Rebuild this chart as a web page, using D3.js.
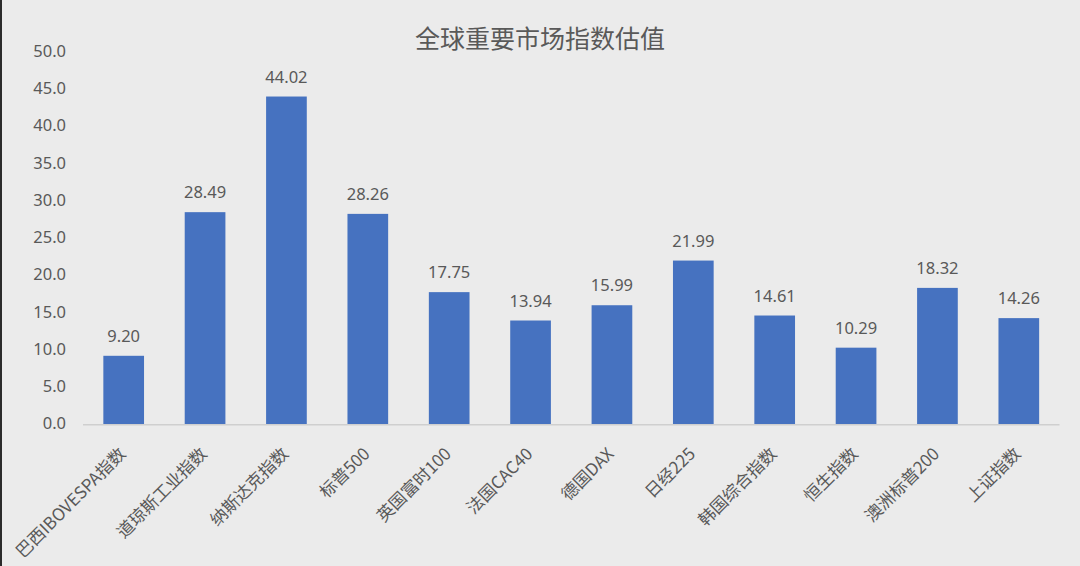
<!DOCTYPE html>
<html>
<head>
<meta charset="utf-8">
<script src="https://cdn.jsdelivr.net/npm/d3@7"></script>
<style>
  html, body { margin: 0; padding: 0; background: #ebebeb; }
  svg { display: block; }
  text { font-family: "Noto Sans", "Noto Sans CJK SC", sans-serif; fill: #595959; }
</style>
</head>
<body>
<div id="chart"></div>
<script>
const categories = ["巴西IBOVESPA指数", "道琼斯工业指数", "纳斯达克指数", "标普500", "英国富时100",
  "法国CAC40", "德国DAX", "日经225", "韩国综合指数", "恒生指数", "澳洲标普200", "上证指数"];
const values = [9.20, 28.49, 44.02, 28.26, 17.75, 13.94, 15.99, 21.99, 14.61, 10.29, 18.32, 14.26];
const yTicks = [0, 5, 10, 15, 20, 25, 30, 35, 40, 45, 50];
const title = "全球重要市场指数估值";

const width = 1080, height = 566;
const margin = { top: 52, right: 20, bottom: 142, left: 83 };

const svg = d3.select("#chart")
  .append("svg")
  .attr("width", width)
  .attr("height", height);

svg.append("rect")
  .attr("width", width).attr("height", height)
  .attr("fill", "#ebebeb");

// dark edge on the left side of the picture
svg.append("rect")
  .attr("x", 0).attr("y", 0)
  .attr("width", 2).attr("height", height)
  .attr("fill", "#2b2b2b");

const x = d3.scaleBand()
  .domain(categories)
  .range([margin.left, 1059.5])
  .paddingInner(0.5)
  .paddingOuter(0.25);

const y = d3.scaleLinear()
  .domain([0, 50])
  .range([424.3, margin.top]);

// title
svg.append("text")
  .attr("x", 540)
  .attr("y", 48)
  .attr("text-anchor", "middle")
  .style("font-family", "'Noto Sans CJK SC', sans-serif")
  .style("font-size", "25px")
  .text(title);

// y axis labels (no axis line)
svg.append("g")
  .selectAll("text")
  .data(yTicks)
  .join("text")
  .attr("x", 66)
  .attr("y", d => y(d))
  .attr("dy", "0.3em")
  .attr("text-anchor", "end")
  .style("font-size", "16.5px")
  .text(d => d3.format(".1f")(d));

// bars
svg.append("g")
  .selectAll("rect")
  .data(values)
  .join("rect")
  .attr("x", (d, i) => x(categories[i]))
  .attr("y", d => y(d))
  .attr("width", x.bandwidth())
  .attr("height", d => y(0) - y(d))
  .attr("fill", "#4672c0");

// value labels
svg.append("g")
  .selectAll("text")
  .data(values)
  .join("text")
  .attr("x", (d, i) => x(categories[i]) + x.bandwidth() / 2)
  .attr("y", d => y(d) - 14)
  .attr("text-anchor", "middle")
  .style("font-size", "16.5px")
  .text(d => d3.format(".2f")(d));

// x axis line
svg.append("line")
  .attr("x1", margin.left)
  .attr("x2", 1059.5)
  .attr("y1", y(0) + 0.5)
  .attr("y2", y(0) + 0.5)
  .attr("stroke", "#cfcfcf")
  .attr("stroke-width", 1.5);

// rotated category labels
svg.append("g")
  .selectAll("text")
  .data(categories)
  .join("text")
  .attr("transform", d => `translate(${x(d) + x.bandwidth() / 2 + 3},455) rotate(-45)`)
  .attr("text-anchor", "end")
  .style("font-family", "'Noto Sans CJK SC', sans-serif")
  .style("font-size", "17px")
  .text(d => d);
</script>
</body>
</html>
